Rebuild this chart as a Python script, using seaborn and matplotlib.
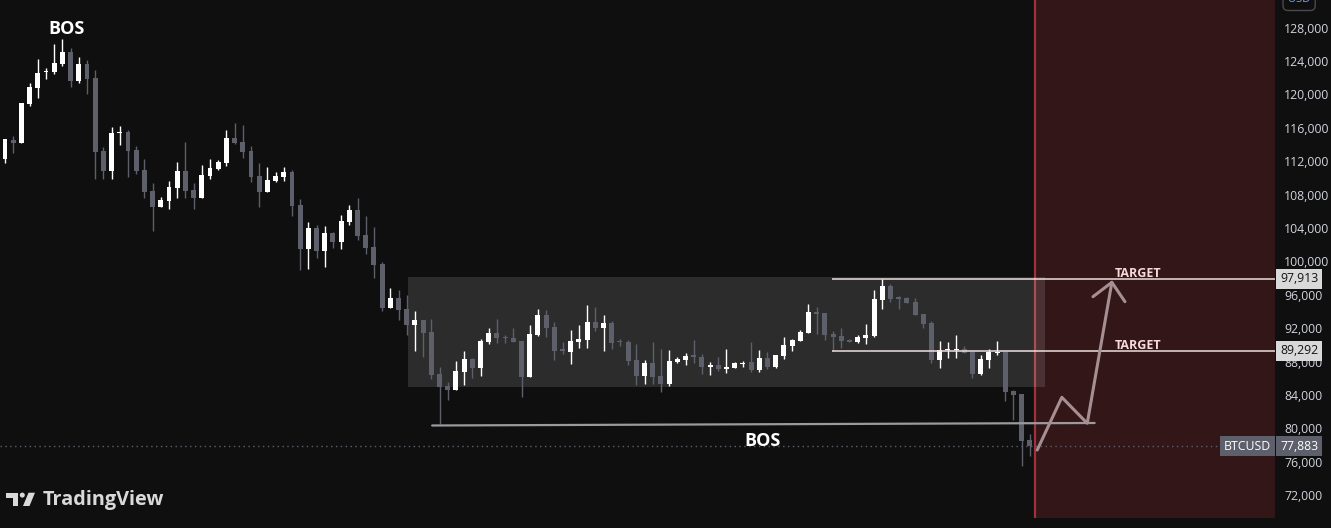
import numpy as np
import pandas as pd
import seaborn as sns
import matplotlib.pyplot as plt
from matplotlib.patches import Rectangle, Polygon, Circle

# BTCUSD daily candles
opens = [112280, 114550, 114230, 118860, 120820, 122640, 122690, 123650, 125090, 121620,
         123650, 121980, 113230, 110870, 115350, 115510, 113350, 110960, 108440, 106560,
         107280, 108840, 110840, 108560, 107640, 110280, 111080, 111800, 114790, 114310,
         113230, 110240, 108320, 109640, 110120, 110720, 106770, 101500, 104010, 101260,
         103410, 102340, 104730, 106170, 103170, 101740, 99700, 94430, 95630, 94310,
         92390, 92990, 91560, 86530, 85090, 84610, 86770, 88320, 87250, 90360,
         91440, 90990, 90840, 90480, 86170, 91200, 93590, 92160, 89460, 89160,
         90360, 90600, 92760, 92040, 92640, 90420, 90360, 88200, 86290, 87850,
         86290, 85330, 87960, 88200, 88740, 88560, 87370, 87610, 87130, 87250,
         87670, 87970, 87010, 88440, 87370, 88680, 89880, 90480, 91440, 93890,
         93830, 91320, 91080, 90600, 90360, 90840, 91080, 95390, 97070, 95690,
         95630, 95150, 93710, 92630, 88200, 89400, 89400, 89520, 89160, 86530,
         88200, 89080, 89160, 84490, 84130, 78620]
highs = [114670, 115030, 118980, 121340, 124250, 123170, 126050, 126650, 125570, 124490,
         124130, 122930, 113710, 116110, 116230, 115750, 113830, 112280, 109400, 107720,
         109640, 111920, 114310, 109400, 111560, 112280, 112160, 115750, 116590, 116350,
         113830, 111800, 111320, 110720, 111320, 110960, 107480, 104730, 104370, 104250,
         103530, 105570, 106770, 107600, 105450, 104130, 99940, 96830, 96590, 95990,
         94070, 92990, 93110, 87370, 85570, 88080, 89280, 88440, 90720, 92040,
         93110, 91200, 92040, 90480, 92400, 94310, 94190, 92760, 90360, 91800,
         92400, 94790, 94550, 93590, 92870, 90720, 90600, 90120, 88200, 90360,
         89520, 89400, 88560, 89040, 90600, 88920, 87970, 88560, 89520, 87970,
         88080, 90360, 89400, 89160, 88800, 90960, 90720, 91800, 94910, 94550,
         93830, 91680, 92040, 90720, 91200, 92510, 96590, 97913, 97310, 95870,
         95750, 95630, 93710, 92870, 90480, 90360, 91200, 89880, 89160, 88800,
         89520, 90480, 89280, 84610, 84130, 79340]
lows = [111830, 113030, 114230, 118660, 119620, 121890, 122490, 123450, 120930, 121410,
        120100, 109920, 109920, 109920, 113990, 110160, 110520, 107640, 103690, 106560,
        106320, 107640, 107640, 106320, 107640, 109920, 110960, 111470, 114070, 112400,
        109520, 106530, 108320, 109520, 109640, 105450, 98980, 99100, 100420, 99340,
        101620, 101500, 104370, 102570, 100900, 98020, 94070, 94430, 92990, 91200,
        89280, 88560, 85930, 80540, 83410, 84610, 85210, 86050, 86290, 90120,
        90240, 90240, 90360, 83770, 86170, 91080, 90960, 88200, 88920, 87720,
        89640, 89640, 91680, 89280, 89520, 89880, 87610, 85210, 85330, 85330,
        84370, 85090, 87850, 87610, 87850, 86530, 86410, 86890, 86650, 87250,
        87370, 86770, 86770, 87130, 87250, 88320, 89280, 90480, 91440, 91320,
        90600, 89292, 89640, 90360, 90240, 90120, 90960, 94310, 95150, 94310,
        95030, 93590, 92040, 87850, 87250, 88440, 88440, 89040, 86050, 86410,
        87250, 88800, 83290, 81020, 75510, 76710]
closes = [114670, 114230, 118980, 120900, 122570, 122690, 123770, 125090, 121650, 123650,
          121890, 113150, 110870, 115390, 115510, 113270, 110870, 108360, 106560, 107365,
          108920, 110840, 108480, 107640, 110360, 111200, 111920, 114790, 114190, 113110,
          110120, 108320, 109760, 110240, 110720, 106650, 101500, 104010, 101260, 103410,
          102340, 104850, 106170, 103050, 101620, 99580, 94430, 95630, 94190, 92390,
          92990, 91440, 86410, 85000, 84610, 86890, 88320, 87250, 90480, 91440,
          90840, 90840, 90360, 86170, 91320, 93590, 92040, 89280, 89340, 90480,
          90720, 92760, 92040, 92640, 90240, 90300, 88080, 86290, 87850, 86170,
          85330, 88080, 88320, 88680, 88620, 87370, 87610, 87130, 87370, 87850,
          87790, 87010, 88440, 87370, 88800, 90000, 90600, 91560, 93950, 93770,
          91200, 90960, 90480, 90360, 90960, 91200, 95510, 97070, 95510, 95530,
          95030, 93590, 92510, 88200, 89400, 89520, 89520, 89040, 86530, 88320,
          89160, 89160, 84370, 84010, 78500, 77883]

price_ticks = list(range(72000, 128001, 4000))
last_price = 77883
targets = [97913, 89292]
target_start = 100.85
range_box = [49.15, 126.8, 84970, 98143]      # x0, x1, y0, y1
bos_line_x = [52.1, 132.9]
bos_line_y = [80360, 80660]
forecast_start = 125.6
path_x = [125.9, 128.9, 132.0, 135.0]
path_y = [77425, 83736, 80623, 97509]
head_x = [132.7, 135.0, 136.6]
head_y = [95785, 97509, 95186]

df = pd.DataFrame({'open': opens, 'high': highs, 'low': lows, 'close': closes})
df['i'] = np.arange(len(df))
up = df['close'] >= df['open']
col = np.where(up, '#ffffff', '#5d606b')

bg = '#0f0f0f'
sns.set_theme(style='dark', rc={'axes.facecolor': bg, 'figure.facecolor': bg,
                                'axes.edgecolor': bg, 'axes.grid': False})
plt.rcParams['font.family'] = ['Open Sans', 'DejaVu Sans']

fig = plt.figure(figsize=(13.31, 5.28), dpi=100)
ax = fig.add_axes([0, 10 / 528, 1275 / 1331, 518 / 528])
ax.set_xlim(-0.61, 154.9)
ax.set_ylim(69281, 131317)

# forecast zone
ax.axvspan(forecast_start, 170, color='#321618', lw=0, zorder=0)
ax.axvline(forecast_start, color='#a3313a', lw=1.6, zorder=0.5)

# range box
ax.add_patch(Rectangle((range_box[0], range_box[2]), range_box[1] - range_box[0],
                       range_box[3] - range_box[2], fc='white', alpha=0.12, lw=0, zorder=1))

# candles
ax.vlines(df['i'], df['low'], df['high'], colors=col, lw=1, zorder=3)
body = (df['close'] - df['open']).abs().clip(lower=130)
ax.bar(df['i'], body, bottom=df[['open', 'close']].min(axis=1), width=0.6,
       color=col, linewidth=0, zorder=4)

# last price line
ax.axhline(last_price, color='#5d606b', ls=(0, (1, 2.5)), lw=1, zorder=2)

# lines and markings
ax.plot(bos_line_x, bos_line_y, color='#9b9b9b', lw=1.6, zorder=5)
ax.hlines(targets, target_start, 170, colors='#f3e2e2', lw=1.2, alpha=0.9, zorder=5)
sns.lineplot(x=path_x, y=path_y, sort=False, estimator=None, color='#a68f92', lw=2.2, ax=ax, zorder=6)
sns.lineplot(x=head_x, y=head_y, sort=False, estimator=None, color='#a68f92', lw=2.2, ax=ax, zorder=6)

ax.text(7.56, 127800, 'BOS', color='white', fontsize=13, fontweight='bold', ha='center', va='center')
ax.text(92.4, 78450, 'BOS', color='white', fontsize=13, fontweight='bold', ha='center', va='center')
for t in targets:
    ax.text(138.2, t + 620, 'TARGET', color='#f6d9d9', fontsize=9, fontweight='bold',
            ha='center', va='center', zorder=7)

# price scale
ax.yaxis.tick_right()
ax.set_yticks(price_ticks)
ax.set_yticklabels([f'{v:,}' for v in price_ticks])
ax.tick_params(axis='y', length=0, pad=6.5, labelcolor='#d1d4dc', labelsize=8.8)
ax.set_xticks([])
for s in ax.spines.values():
    s.set_visible(False)

yt = ax.get_yaxis_transform()
for t in targets:
    ax.text(1.0039, t, f'{t:,}', transform=yt, color='#131313', fontsize=8.8, ha='left', va='center',
            bbox=dict(boxstyle='square,pad=0.3', fc='#d9d9d9', ec='none'), clip_on=False, zorder=10)
ax.text(1.0039, last_price, f'{last_price:,}', transform=yt, color='white', fontsize=8.8, ha='left',
        va='center', bbox=dict(boxstyle='square,pad=0.3', fc='#5d606b', ec='none'), clip_on=False, zorder=10)
ax.text(0.9969, last_price, 'BTCUSD', transform=yt, color='white', fontsize=8.8, ha='right',
        va='center', bbox=dict(boxstyle='square,pad=0.3', fc='#5d606b', ec='none'), clip_on=False, zorder=10)

# currency badge, cut by the top edge as in the original
fig.text(1288 / 1331, 1.0, 'USD', color='#7aa7f7', fontsize=8, ha='left', va='center',
         bbox=dict(boxstyle='round,pad=0.45', fc=bg, ec='#4a4a4a'))

# TradingView watermark
ov = fig.add_axes([0, 0, 1, 1])
ov.set_xlim(0, 1331)
ov.set_ylim(528, 0)
ov.axis('off')
ov.patch.set_alpha(0)
logo = '#d9d9d9'
ov.add_patch(Polygon([(6, 492.7), (18, 492.7), (18, 506), (12.5, 506), (12.5, 497.5), (6, 497.5)],
                     closed=True, fc=logo, ec='none'))
ov.add_patch(Circle((22.3, 495.1), 2.5, fc=logo, ec='none'))
ov.add_patch(Polygon([(28.5, 492.7), (35, 492.7), (29.5, 506), (23, 506)], closed=True, fc=logo, ec='none'))
ov.text(43, 499.5, 'TradingView', color=logo, fontsize=14.3, fontweight='bold', ha='left', va='center')

fig.savefig('out.png', dpi=100, facecolor=bg)
